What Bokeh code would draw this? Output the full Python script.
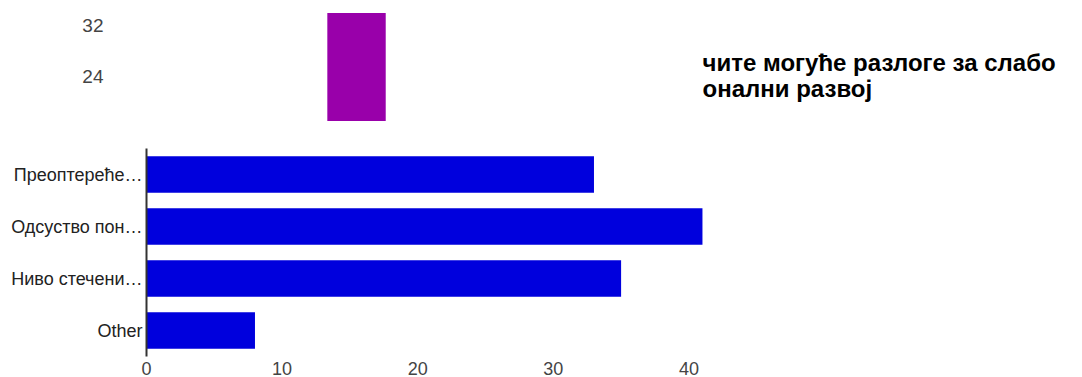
from bokeh.plotting import figure
from bokeh.layouts import column
from bokeh.models import Range1d, FactorRange, FixedTicker, Label
from bokeh.embed import file_html
from bokeh.resources import INLINE

# ---- data ----
categories = ["Преоптереће…", "Одсуство пон…", "Ниво стечени…", "Other"]
counts = [33, 41, 35, 8]
x_ticks = [0, 10, 20, 30, 40]

top_values = [34]
top_ticks = [16, 24, 32]
title_lines = ["чите могуће разлоге за слабо", "онални развој"]

FONT = "Liberation Sans"
W = 1066
LEFT = 146      # frame left offset
PX_PER_UNIT = 13.56

# ---- top fragment (previous chart, clipped) ----
top = figure(width=W, height=121, output_backend="svg", toolbar_location=None,
             x_range=Range1d(-2.877, -2.877 + (W - LEFT) / 73.0), y_range=Range1d(16.98, 34.71),
             min_border_left=LEFT, min_border_right=0, min_border_top=8, min_border_bottom=0)
top.vbar(x=list(range(len(top_values))), top=top_values, bottom=0, width=0.8,
         color="#9900aa", line_color=None)
top.xaxis.visible = False
top.yaxis.ticker = FixedTicker(ticks=top_ticks)
top.yaxis.axis_line_color = None
top.yaxis.major_tick_line_color = None
top.yaxis.minor_tick_line_color = None
top.yaxis.major_tick_out = 0
top.yaxis.major_tick_in = 0
top.yaxis.major_label_standoff = 43
top.yaxis.major_label_text_font = FONT
top.yaxis.major_label_text_font_size = "19px"
top.yaxis.major_label_text_color = "#444444"
top.xgrid.visible = False
top.ygrid.visible = False
top.outline_line_color = None
top.background_fill_color = None
top.border_fill_color = "white"

# sliver of the clipped "16" tick label below the visible area
top.add_layout(Label(x=-43, x_units="screen", y=top_ticks[0], y_units="data", text=str(top_ticks[0]),
                     text_align="right", text_baseline="middle", text_font=FONT,
                     text_font_size="19px", text_color="#444444"))

for line, yy in zip(title_lines, [59, 33]):
    top.add_layout(Label(x=556, y=yy, x_units="screen", y_units="screen", text=line,
                         text_align="left", text_baseline="alphabetic", text_font=FONT,
                         text_font_size="24px", text_font_style="bold", text_color="#000000"))

# ---- main horizontal bar chart ----
p = figure(width=W, height=256, output_backend="svg", toolbar_location=None,
           y_range=FactorRange(factors=list(reversed(categories)), range_padding=0),
           x_range=Range1d(0, (W - LEFT) / PX_PER_UNIT),
           min_border_left=LEFT, min_border_right=0, min_border_top=27, min_border_bottom=0)
p.hbar(y=categories, right=counts, left=0, height=0.7, color="#0000dd", line_color=None)

p.xaxis.ticker = FixedTicker(ticks=x_ticks)
p.xaxis.axis_line_color = None
p.xaxis.major_tick_line_color = None
p.xaxis.minor_tick_line_color = None
p.xaxis.major_tick_out = 0
p.xaxis.major_tick_in = 0
p.xaxis.major_label_standoff = 5
p.xaxis.major_label_text_font = FONT
p.xaxis.major_label_text_font_size = "18px"
p.xaxis.major_label_text_color = "#444444"

p.yaxis.axis_line_color = "#333333"
p.yaxis.axis_line_width = 2
p.yaxis.major_tick_line_color = None
p.yaxis.minor_tick_line_color = None
p.yaxis.major_tick_out = 0
p.yaxis.major_tick_in = 0
p.yaxis.major_label_standoff = 4
p.yaxis.major_label_text_font = FONT
p.yaxis.major_label_text_font_size = "18px"
p.yaxis.major_label_text_color = "#222222"

p.xgrid.visible = False
p.ygrid.visible = False
p.outline_line_color = None
p.border_fill_color = "white"

layout = column(top, p, spacing=0)
open("out.html", "w").write(file_html(layout, INLINE))
